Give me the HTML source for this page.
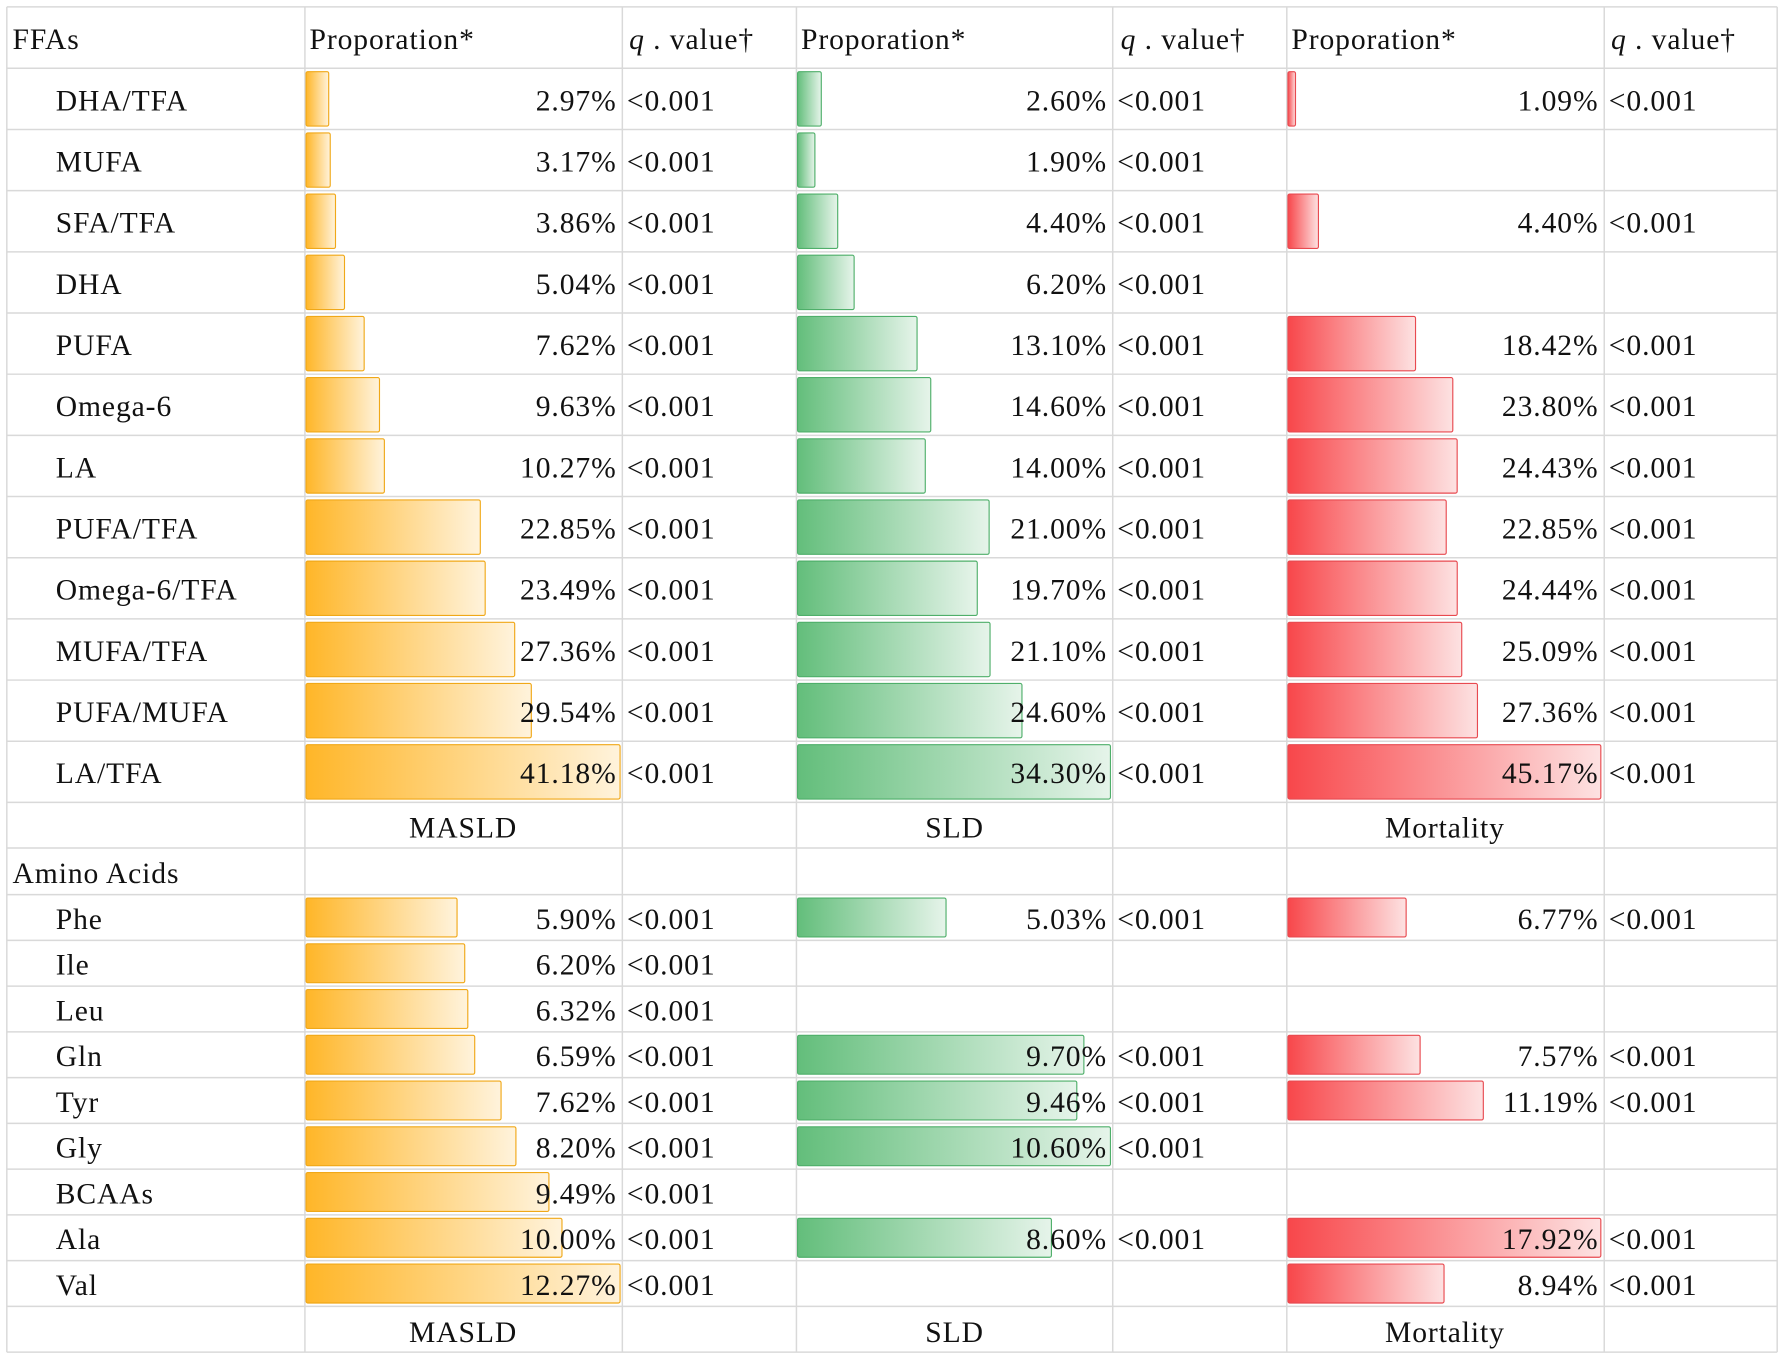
<!DOCTYPE html>
<html><head><meta charset="utf-8"><style>
html,body{margin:0;padding:0;background:#fff;}
svg{display:block;}
svg text{font-family:"Liberation Serif","DejaVu Serif","Times New Roman",serif !important;font-size:26px;fill:#111;letter-spacing:0.8px;}
</style></head><body>
<svg id="chart" width="1784" height="1359" viewBox="0 0 1568 1194" preserveAspectRatio="none" xmlns="http://www.w3.org/2000/svg">
<defs>
<linearGradient id="gO" x1="0" x2="1"><stop offset="0" stop-color="#FFB628"/><stop offset="1" stop-color="#FFF3DC"/></linearGradient>
<linearGradient id="gG" x1="0" x2="1"><stop offset="0" stop-color="#63BE7B"/><stop offset="1" stop-color="#E6F4EA"/></linearGradient>
<linearGradient id="gR" x1="0" x2="1"><stop offset="0" stop-color="#F8474B"/><stop offset="1" stop-color="#FDE2E2"/></linearGradient>
</defs>
<g id="grid"></g>
<g id="bars"></g>
<g id="texts"></g>
</svg>
<script>
const ffaLabels=["DHA/TFA","MUFA","SFA/TFA","DHA","PUFA","Omega-6","LA","PUFA/TFA","Omega-6/TFA","MUFA/TFA","PUFA/MUFA","LA/TFA"];
const ffaMasld=[2.97,3.17,3.86,5.04,7.62,9.63,10.27,22.85,23.49,27.36,29.54,41.18];
const ffaSld=[2.60,1.90,4.40,6.20,13.10,14.60,14.00,21.00,19.70,21.10,24.60,34.30];
const ffaMort=[1.09,null,4.40,null,18.42,23.80,24.43,22.85,24.44,25.09,27.36,45.17];
const aaLabels=["Phe","Ile","Leu","Gln","Tyr","Gly","BCAAs","Ala","Val"];
const aaMasld=[5.90,6.20,6.32,6.59,7.62,8.20,9.49,10.00,12.27];
const aaSld=[5.03,null,null,9.70,9.46,10.60,null,8.60,null];
const aaMort=[6.77,null,null,7.57,11.19,null,null,17.92,8.94];

const NS="http://www.w3.org/2000/svg";
const G=document.getElementById('grid'),B=document.getElementById('bars'),T=document.getElementById('texts');
const colX=[6,268,547,700,978,1131,1410,1562];
function line(x1,y1,x2,y2){const l=document.createElementNS(NS,'line');l.setAttribute('x1',x1);l.setAttribute('y1',y1);l.setAttribute('x2',x2);l.setAttribute('y2',y2);l.setAttribute('stroke','#d9d9d9');l.setAttribute('stroke-width','1.3');


G.appendChild(l);}
function txt(s,x,y,anchor,name){const t=document.createElementNS(NS,'text');t.setAttribute('x',x);t.setAttribute('y',y);if(anchor)t.setAttribute('text-anchor',anchor);t.textContent=s;


T.appendChild(t);return t;}
const hLines=[6,60];
const hdrY=43;
txt("FFAs",11,hdrY,null,'section-header-ffas');
[[272,'masld'],[704,'sld'],[1135,'mortality']].forEach(([x,n])=>{
  txt("Proporation*",x,hdrY,null,'proportion-header-'+n);
  const q=txt("",x+281,hdrY,null,'q-value-header-'+n);
  q.innerHTML='<tspan font-style="italic">q</tspan> . value†';
});
const colStarts=[269,701,1132];const colW=[276,275,275];
const grads=['url(#gO)','url(#gG)','url(#gR)'];const strokes=['#F0A818','#4FAF6A','#E84A50'];
const names=['masld','sld','mortality'];
function section(labels,series,top,rowH){
  const maxes=series.map(s=>Math.max(...s.filter(v=>v!=null)));
  labels.forEach((lab,i)=>{
    const y0=top+i*rowH;hLines.push(y0+rowH);
    const ty=y0+rowH/2+10;
    txt(lab,49,ty,null,'row-label-'+lab.toLowerCase().replace(/[^a-z0-9]+/g,'-'));
    series.forEach((s,k)=>{
      const v=s[i];if(v==null)return;
      const w=colW[k]*v/maxes[k];
      const r=document.createElementNS(NS,'rect');
      r.setAttribute('x',colStarts[k]);r.setAttribute('y',y0+3);r.setAttribute('width',w);r.setAttribute('height',rowH-6);
      r.setAttribute('fill',grads[k]);r.setAttribute('stroke',strokes[k]);r.setAttribute('stroke-width','1');r.setAttribute('rx','1.5');
      
      
      B.appendChild(r);
      txt(v.toFixed(2)+'%',colX[2*k+2]-5,ty,'end','value-label-'+names[k]);
      txt('<0.001',colX[2*k+2]+4,ty,null,'q-value-'+names[k]);
    });
  });
}
section(ffaLabels,[ffaMasld,ffaSld,ffaMort],60,53.75);
[['MASLD',407],['SLD',839],['Mortality',1270]].forEach(([s,x])=>txt(s,x,736,'middle','group-label-'+s.toLowerCase()));
hLines.push(745);
txt("Amino Acids",11,776,null,'section-header-amino-acids');
hLines.push(786);
section(aaLabels,[aaMasld,aaSld,aaMort],786,40.2);
[['MASLD',407],['SLD',839],['Mortality',1270]].forEach(([s,x])=>txt(s,x,1179,'middle','group-label-'+s.toLowerCase()));
hLines.push(1188);
hLines.forEach(y=>line(6,y,1562,y));
colX.forEach(x=>line(x,6,x,1188));
</script>
</body></html>
